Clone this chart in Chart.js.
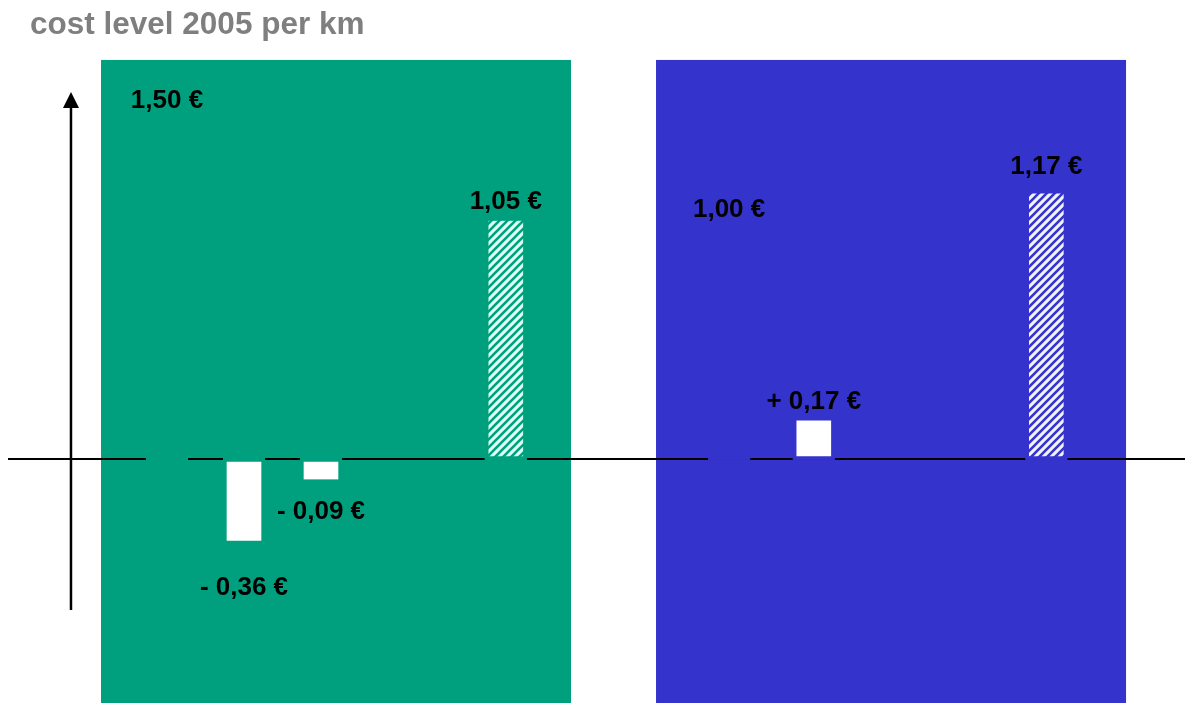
<!DOCTYPE html>
<html>
<head>
<meta charset="utf-8">
<title>cost level 2005 per km</title>
<script src="https://cdn.jsdelivr.net/npm/chart.js@4/dist/chart.umd.min.js"></script>
<style>
  html, body { margin: 0; padding: 0; background: #ffffff; }
  #wrap { position: relative; width: 1185px; height: 703px; }
</style>
</head>
<body>
<div id="wrap"><canvas id="chart"></canvas></div>
<script>
// Cost steps per km (cost level 2005): start level, changes, resulting level
const steps      = ['level A', 'change A1', 'change A2', 'result A', 'level B', 'change B1', 'result B'];
const stepPos    = [1, 2, 3, 5.4, 8.3, 9.4, 12.42];
const stepValue  = [1.50, -0.36, -0.09, 1.05, 1.00, 0.17, 1.17];
const stepKind   = ['level', 'change', 'change', 'result', 'level', 'change', 'result'];
const stepGroup  = [0, 0, 0, 0, 1, 1, 1];

// Label distance from bar end, px
const labelGap   = [18, 47, 32, 19, 22, 19, 27];

// Background panels (one per scenario), in axis units
const panels = [
  { from: 0.143, to: 6.247, top: 1.758, color: '#00a07e', hatchBg: '#ddfff4' },
  { from: 7.351, to: 13.455, top: 1.758, color: '#3433cb', hatchBg: '#f2f2ff' }
];

function makeHatch(stroke, bg) {
  const s = 8;
  const c = document.createElement('canvas');
  c.width = s; c.height = s;
  const g = c.getContext('2d');
  g.fillStyle = bg;
  g.fillRect(0, 0, s, s);
  g.strokeStyle = stroke;
  g.lineWidth = 2.6;
  g.beginPath();
  g.moveTo(-2, s + 2); g.lineTo(s + 2, -2);
  g.moveTo(-2, 2); g.lineTo(2, -2);
  g.moveTo(s - 2, s + 2); g.lineTo(s + 2, s - 2);
  g.stroke();
  return document.getElementById('chart').getContext('2d').createPattern(c, 'repeat');
}
const hatches = panels.map(p => makeHatch(p.color, p.hatchBg));

function fmtValue(v, kind) {
  const s = Math.abs(v).toFixed(2).replace('.', ',') + ' €';
  if (kind !== 'change') return s;
  return (v < 0 ? '- ' : '+ ') + s;
}

const decor = {
  id: 'decor',
  beforeDatasetsDraw(chart) {
    const { ctx, scales: { x, y } } = chart;
    ctx.save();
    // panels
    panels.forEach(p => {
      const l = x.getPixelForValue(p.from), r = x.getPixelForValue(p.to);
      const t = y.getPixelForValue(p.top), b = y.getPixelForValue(y.min);
      ctx.fillStyle = p.color;
      ctx.fillRect(l, t, r - l, b - t + 1);
    });
    // horizontal axis line
    const y0 = y.getPixelForValue(0);
    ctx.strokeStyle = '#000';
    ctx.lineWidth = 2;
    ctx.beginPath();
    ctx.moveTo(x.getPixelForValue(-1.065), y0);
    ctx.lineTo(chart.width, y0);
    ctx.stroke();
    // gaps in the line around each bar
    chart.getDatasetMeta(0).data.forEach((el, i) => {
      ctx.fillStyle = panels[stepGroup[i]].color;
      ctx.fillRect(el.x - el.width / 2, y0 - 1.5, el.width, 3);
    });
    // vertical axis with arrow
    const ax = x.getPixelForValue(-0.247);
    const yb = y.getPixelForValue(-0.665), yt = y.getPixelForValue(1.617);
    ctx.lineWidth = 2.5;
    ctx.beginPath();
    ctx.moveTo(ax, yb);
    ctx.lineTo(ax, yt + 14);
    ctx.stroke();
    ctx.fillStyle = '#000';
    ctx.beginPath();
    ctx.moveTo(ax, yt);
    ctx.lineTo(ax - 8, yt + 16);
    ctx.lineTo(ax + 8, yt + 16);
    ctx.closePath();
    ctx.fill();
    ctx.restore();
  },
  afterDatasetsDraw(chart) {
    const { ctx } = chart;
    ctx.save();
    ctx.font = 'bold 26px "Liberation Sans", Arial, sans-serif';
    ctx.fillStyle = '#000';
    ctx.textAlign = 'center';
    ctx.textBaseline = 'middle';
    chart.getDatasetMeta(0).data.forEach((el, i) => {
      const v = stepValue[i];
      const ly = v >= 0 ? el.y - labelGap[i] : el.y + labelGap[i];
      ctx.fillText(fmtValue(v, stepKind[i]), el.x, ly);
    });
    ctx.restore();
  }
};

new Chart(document.getElementById('chart'), {
  type: 'bar',
  data: {
    datasets: [{
      label: 'cost level 2005 per km',
      data: stepPos.map((p, i) => ({ x: p, y: stepValue[i] })),
      grouped: false,
      barThickness: 42,
      backgroundColor: c => {
        const i = c.dataIndex, g = panels[stepGroup[i]];
        if (stepKind[i] === 'level') return g.color;
        if (stepKind[i] === 'result') return hatches[stepGroup[i]];
        return '#ffffff';
      },
      borderColor: c => panels[stepGroup[c.dataIndex]].color,
      borderWidth: { top: 3, bottom: 3, left: 4, right: 4 },
      borderSkipped: 'end'
    }]
  },
  options: {
    responsive: true,
    maintainAspectRatio: false,
    devicePixelRatio: 1,
    animation: false,
    layout: { padding: { left: 30, right: 0, top: 0, bottom: 0 } },
    plugins: {
      legend: { display: false },
      tooltip: { enabled: false },
      title: {
        display: true,
        text: 'cost level 2005 per km',
        align: 'start',
        color: '#7f7f7f',
        font: { family: '"Liberation Sans", Arial, sans-serif', size: 31.5, weight: 'bold', lineHeight: 1.2 },
        padding: { top: 6, bottom: 0 }
      }
    },
    scales: {
      x: { type: 'linear', display: false, offset: false, min: -0.7792, max: 14.2208 },
      y: { display: false, min: -1.0749, max: 1.8291 }
    }
  },
  plugins: [decor]
});
</script>
</body>
</html>
